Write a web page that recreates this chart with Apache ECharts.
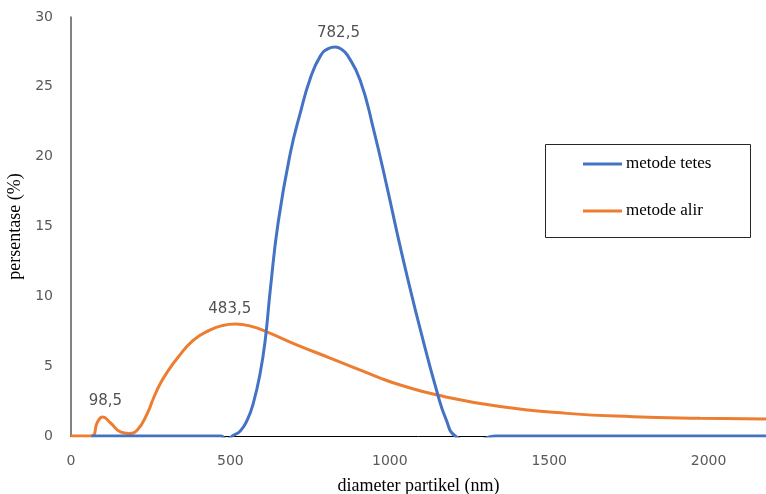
<!DOCTYPE html>
<html>
<head>
<meta charset="utf-8">
<script src="https://cdn.jsdelivr.net/npm/echarts@6/dist/echarts.min.js"></script>
<style>
html,body{margin:0;padding:0;background:#fff;}
#chart{width:766px;height:494px;}
</style>
</head>
<body>
<div id="chart"></div>
<script>
// Data
const seriesNames = ['metode tetes', 'metode alir'];

const tetesX = [64, 300, 470, 488, 506, 531, 553, 572, 594, 610, 625, 650, 688, 719, 751, 782, 807, 829, 848, 867, 907, 948, 992, 1023, 1055, 1096, 1149, 1177, 1205, 1265, 1330, 1500, 2180];
const tetesY = [0, 0, 0, -0.25, 0, 0.36, 1.15, 2.36, 4.58, 7.02, 10.45, 15.32, 20.26, 23.12, 25.63, 27.2, 27.74, 27.85, 27.7, 27.27, 25.48, 22.05, 17.75, 14.53, 11.38, 7.59, 3.08, 1.15, 0, -0.4, 0, 0, 0];

const alirX = [0, 64, 83, 99, 124, 155, 180, 208, 240, 259, 281, 306, 334, 384, 437, 475, 516, 563, 616, 710, 813, 876, 970, 1033, 1149, 1346, 1556, 1763, 1973, 2180];
const alirY = [0, 0, 1.0, 1.36, 0.93, 0.29, 0.18, 0.43, 1.65, 2.72, 3.79, 4.72, 5.58, 6.87, 7.6, 7.91, 8.02, 7.87, 7.44, 6.51, 5.58, 5.01, 4.15, 3.65, 2.93, 2.11, 1.62, 1.38, 1.27, 1.22];

const peakTextX = [839, 498, 108];
const peakTextY = [28.85, 9.09, 2.52];
const peakText = ['782,5', '483,5', '98,5'];

const xTicks = [0, 500, 1000, 1500, 2000];
const yTicks = [0, 5, 10, 15, 20, 25, 30];

const zip = (xs, ys) => xs.map((x, i) => [x, ys[i]]);

const chart = echarts.init(document.getElementById('chart'), null, {renderer: 'canvas'});
chart.setOption({
  animation: false,
  backgroundColor: '#ffffff',
  grid: {left: 71, right: 0, top: 17, bottom: 58, containLabel: false, outerBoundsMode: 'none'},
  xAxis: {
    type: 'value',
    min: xTicks[0], max: 2180, interval: 500,
    name: 'diameter partikel (nm)',
    nameLocation: 'middle', nameGap: 41,
    nameTextStyle: {fontFamily: 'Liberation Serif', fontSize: 18, color: '#000'},
    axisLine: {show: true, onZero: false, lineStyle: {color: '#000', width: 1}},
    axisTick: {show: false},
    splitLine: {show: false},
    axisLabel: {
      margin: 18, color: '#595959', fontFamily: 'DejaVu Sans', fontSize: 14,
      formatter: v => (xTicks.indexOf(v) >= 0 ? String(v) : '')
    }
  },
  yAxis: {
    type: 'value',
    min: yTicks[0], max: yTicks[yTicks.length - 1], interval: 5,
    name: 'persentase (%)',
    nameLocation: 'middle', nameGap: 38,
    nameTextStyle: {fontFamily: 'Liberation Serif', fontSize: 18, color: '#000'},
    axisLine: {show: true, lineStyle: {color: '#595959', width: 1.5}},
    axisTick: {show: false},
    splitLine: {show: false},
    axisLabel: {margin: 18, color: '#595959', fontFamily: 'DejaVu Sans', fontSize: 14}
  },
  legend: {
    data: seriesNames,
    orient: 'vertical',
    left: 583, top: 154,
    padding: 0,
    itemGap: 27,
    itemWidth: 39, itemHeight: 3,
    icon: 'rect',
    textStyle: {fontFamily: 'Liberation Serif', fontSize: 17, color: '#000', lineHeight: 20, padding: [0, 0, 0, -1]}
  },
  graphic: [{
    type: 'rect', left: 543, top: 142, silent: true, z: 100,
    shape: {width: 205, height: 93},
    style: {fill: 'none', stroke: '#262626', lineWidth: 1}
  }],
  series: [
    {
      name: seriesNames[0], type: 'line', data: zip(tetesX, tetesY),
      smooth: 0.5, showSymbol: false, clip: true,
      lineStyle: {color: '#4472C4', width: 3}, itemStyle: {color: '#4472C4'}, z: 3
    },
    {
      name: seriesNames[1], type: 'line', data: zip(alirX, alirY),
      smooth: 0.5, showSymbol: false, clip: true,
      lineStyle: {color: '#ED7D31', width: 3}, itemStyle: {color: '#ED7D31'}, z: 2
    },
    {
      name: 'labels', type: 'scatter', symbolSize: 0, silent: true,
      data: peakTextX.map((x, i) => ({value: [x, peakTextY[i]], name: peakText[i]})),
      label: {show: true, position: 'inside', formatter: p => p.name,
        fontFamily: 'DejaVu Sans', fontSize: 15, color: '#262626'}
    }
  ]
});
</script>
</body>
</html>
